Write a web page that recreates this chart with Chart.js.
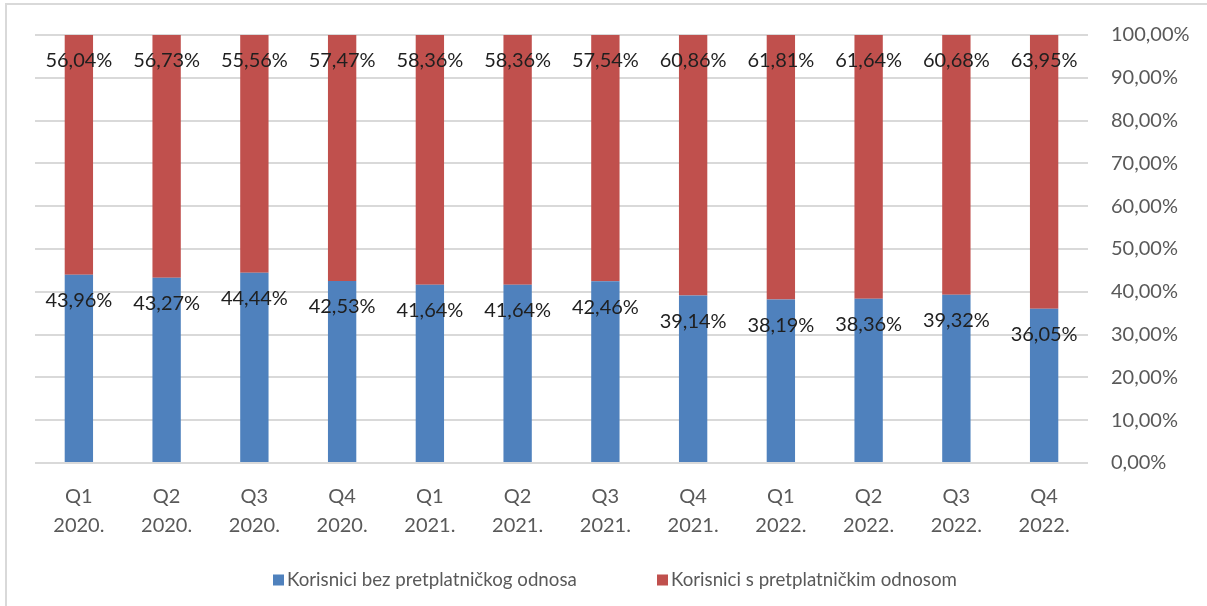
<!DOCTYPE html>
<html>
<head>
<meta charset="utf-8">
<script src="https://cdn.jsdelivr.net/npm/chart.js@4.4.1/dist/chart.umd.min.js"></script>
<style>
  html, body { margin: 0; padding: 0; background: #fff; }
  #wrap { position: relative; width: 1207px; height: 606px; overflow: hidden; background: #fff; }
  #frame { position: absolute; left: 5px; top: 3px; width: 1300px; height: 700px;
           border-left: 2px solid #d9d9d9; border-top: 2px solid #d9d9d9; box-sizing: border-box; }
  canvas { position: absolute; left: 0; top: 0; }
</style>
</head>
<body>
<div id="wrap">
  <div id="frame"></div>
  <canvas id="c" width="1207" height="606"></canvas>
</div>
<script>
const quarters = ['Q1','Q2','Q3','Q4','Q1','Q2','Q3','Q4','Q1','Q2','Q3','Q4'];
const years = ['2020.','2020.','2020.','2020.','2021.','2021.','2021.','2021.','2022.','2022.','2022.','2022.'];
const seriesNames = ['Korisnici bez pretplatničkog odnosa', 'Korisnici s pretplatničkim odnosom'];
const withoutSubscription = [43.96, 43.27, 44.44, 42.53, 41.64, 41.64, 42.46, 39.14, 38.19, 38.36, 39.32, 36.05];
const withSubscription = [56.04, 56.73, 55.56, 57.47, 58.36, 58.36, 57.54, 60.86, 61.81, 61.64, 60.68, 63.95];
const yTicks = [0, 10, 20, 30, 40, 50, 60, 70, 80, 90, 100];

const FONT = 'Lato';
const fmt = v => v.toFixed(2).replace('.', ',') + '%';

const labelPlugin = {
  id: 'barLabels',
  afterDatasetsDraw(chart) {
    const ctx = chart.ctx;
    ctx.save();
    ctx.font = '20px ' + FONT;
    ctx.fillStyle = '#1f1f1f';
    ctx.textAlign = 'center';
    ctx.textBaseline = 'middle';
    chart.data.datasets.forEach((ds, di) => {
      const meta = chart.getDatasetMeta(di);
      meta.data.forEach((el, i) => {
        ctx.fillText(fmt(ds.data[i]), el.x, el.y + 26);
      });
    });
    ctx.restore();
  }
};

const legendPlugin = {
  id: 'customLegend',
  afterDraw(chart) {
    const ctx = chart.ctx;
    const starts = [273, 657];
    const y = 580;
    ctx.save();
    ctx.font = '18.7px ' + FONT;
    ctx.textBaseline = 'middle';
    ctx.textAlign = 'left';
    chart.data.datasets.forEach((ds, i) => {
      const x = starts[i];
      ctx.fillStyle = ds.backgroundColor;
      ctx.fillRect(x, y - 5.5, 11, 11);
      ctx.fillStyle = '#595959';
      ctx.fillText(ds.label, x + 14, y);
    });
    ctx.restore();
  }
};

new Chart(document.getElementById('c'), {
  type: 'bar',
  data: {
    labels: quarters.map((q, i) => [q, years[i]]),
    datasets: [
      { label: seriesNames[0], data: withoutSubscription, backgroundColor: '#4F81BD' },
      { label: seriesNames[1], data: withSubscription, backgroundColor: '#C0504D' }
    ]
  },
  options: {
    responsive: false,
    animation: false,
    events: [],
    layout: { padding: { left: 35, top: 31, right: 0, bottom: 0 } },
    datasets: { bar: { categoryPercentage: 1, barPercentage: 0.323 } },
    plugins: { legend: { display: false }, tooltip: { enabled: false } },
    scales: {
      x: {
        stacked: true,
        grid: { display: false, drawTicks: false },
        border: { display: false },
        ticks: { color: '#595959', font: { family: FONT, size: 20, lineHeight: 1.45 }, padding: 19, maxRotation: 0, autoSkip: false },
        afterFit: s => { s.height = 143; }
      },
      y: {
        stacked: true,
        position: 'right',
        min: 0, max: 100,
        afterBuildTicks: s => { s.ticks = yTicks.map(v => ({ value: v })); },
        grid: { color: '#d9d9d9', lineWidth: 2, drawTicks: false },
        border: { display: false },
        ticks: { color: '#595959', font: { family: FONT, size: 20 }, padding: 23, callback: v => fmt(v) },
        afterFit: s => { s.width = 119; }
      }
    }
  },
  plugins: [labelPlugin, legendPlugin]
});
</script>
</body>
</html>
